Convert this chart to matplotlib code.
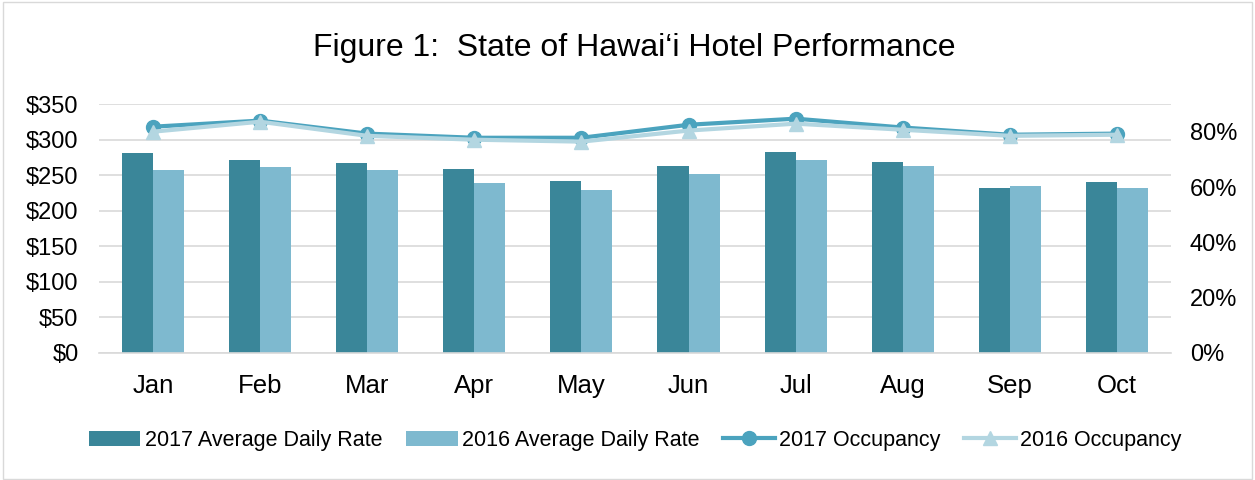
import matplotlib.pyplot as plt
import numpy as np
from matplotlib.ticker import FuncFormatter
from matplotlib.patches import Rectangle

plt.rcParams['font.family'] = ['Liberation Sans', 'DejaVu Sans']

months = ["Jan", "Feb", "Mar", "Apr", "May", "Jun", "Jul", "Aug", "Sep", "Oct"]
adr_2017 = [281, 271, 267, 259, 242, 263, 283, 268, 232, 240]
adr_2016 = [257, 261, 257, 239, 229, 252, 271, 263, 235, 232]
occ_2017 = [0.818, 0.840, 0.793, 0.778, 0.778, 0.825, 0.847, 0.815, 0.789, 0.793]
occ_2016 = [0.800, 0.836, 0.785, 0.771, 0.764, 0.804, 0.829, 0.807, 0.785, 0.789]

c_adr17 = "#3A8699"
c_adr16 = "#7EB9CF"
c_occ17 = "#4BA3BE"
c_occ16 = "#B3D6E1"

fig = plt.figure(figsize=(12.55, 4.8), dpi=100)
fig.patches.append(Rectangle((0.002, 0.002), 0.996, 0.994, transform=fig.transFigure,
                             fill=False, edgecolor="#D9D9D9", linewidth=1))
ax = fig.add_axes([0.0792, 0.2646, 0.8535, 0.5187])
x = np.arange(len(months))
w = 0.29

ax.bar(x - w / 2, adr_2017, w, color=c_adr17, label="2017 Average Daily Rate", zorder=2)
ax.bar(x + w / 2, adr_2016, w, color=c_adr16, label="2016 Average Daily Rate", zorder=2)
ax.set_ylim(0, 350)
ax.set_xlim(-0.5, len(months) - 0.5)
ax.set_yticks(range(0, 351, 50))
ax.yaxis.set_major_formatter(FuncFormatter(lambda v, p: f"${v:.0f}"))
ax.grid(axis="y", color="#D9D9D9", linewidth=1.2, zorder=0)
ax.set_axisbelow(True)
ax.set_xticks(x)
ax.set_xticklabels(months, fontsize=18.5)
ax.tick_params(axis="y", labelsize=17, length=0, pad=15)
ax.tick_params(axis="x", length=0, pad=15)
for s in ["top", "right", "left"]:
    ax.spines[s].set_visible(False)
ax.spines["bottom"].set_color("#D9D9D9")
ax.spines["bottom"].set_linewidth(1.2)

ax2 = ax.twinx()
ax2.plot(x, occ_2016, color=c_occ16, linewidth=3, marker="^", markersize=10,
         label="2016 Occupancy", zorder=3)
ax2.plot(x, occ_2017, color=c_occ17, linewidth=3, marker="o", markersize=10,
         label="2017 Occupancy", zorder=2)
ax2.set_ylim(0, 0.9)
ax2.set_yticks([0, 0.2, 0.4, 0.6, 0.8])
ax2.yaxis.set_major_formatter(FuncFormatter(lambda v, p: f"{v * 100:.0f}%"))
ax2.tick_params(axis="y", labelsize=17, length=0, pad=14)
for s in ax2.spines.values():
    s.set_visible(False)

h1, l1 = ax.get_legend_handles_labels()
h2, l2 = ax2.get_legend_handles_labels()
handles = h1 + [h2[1], h2[0]]
labels = l1 + [l2[1], l2[0]]
fig.legend(handles, labels, loc="center", bbox_to_anchor=(0.506, 0.083), ncol=4,
           frameon=False, fontsize=15.5, handlelength=2.4, handletextpad=0.2,
           columnspacing=1.1)

fig.text(0.505, 0.9, "Figure 1:  State of Hawai\u2018i Hotel Performance",
         ha="center", va="center", fontsize=23)

fig.savefig("out.png", dpi=100)
